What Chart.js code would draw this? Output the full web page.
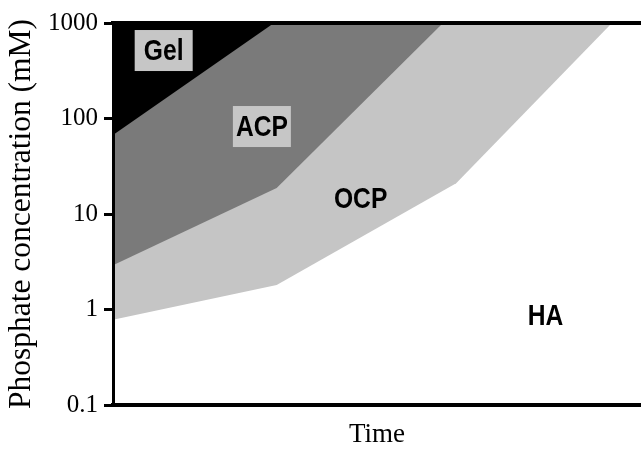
<!DOCTYPE html>
<html lang="en">
<head>
    <meta charset="UTF-8">
    <title>Calcium phosphate phases</title>
    <script src="https://cdn.jsdelivr.net/npm/chart.js"></script>
    <style>
        body {
            margin: 0;
            background-color: #ffffff;
        }

        .chart-box {
            width: 641px;
            height: 451px;
        }
    </style>
</head>
<body>
    <div class="chart-box">
        <canvas id="phaseChart"></canvas>
    </div>

    <script>
        // Upper concentration limit of each phase against time (arbitrary units, 0-100)
        const gelTime = [0, 30.5];
        const gelLimit = [67, 1000];
        const acpTime = [0, 31, 62.5];
        const acpLimit = [2.9, 18.7, 1000];
        const ocpTime = [0, 31, 65, 94.5];
        const ocpLimit = [0.78, 1.8, 21, 1000];

        const yTicks = [0.1, 1, 10, 100, 1000];
        const yTickLabels = ['0.1', '1', '10', '100', '1000'];

        const toPoints = (xs, ys) => xs.map((x, i) => ({x: x, y: ys[i]}));

        // Phase names, placed at (time, concentration)
        const labelSpots = [
            {text: 'Gel', time: 9.6, conc: 515, boxed: true},
            {text: 'ACP', time: 28.2, conc: 82.4, boxed: true},
            {text: 'OCP', time: 46.9, conc: 14.5, boxed: false},
            {text: 'HA', time: 81.9, conc: 0.855, boxed: false}
        ];

        // Bold condensed names; no narrow face installed, so squeeze the regular one
        const phaseLabels = {
            id: 'phaseLabels',
            afterDatasetsDraw(chart) {
                const {ctx, scales: {x, y}} = chart;
                ctx.save();
                ctx.font = 'bold 30px "Liberation Sans", Arial, sans-serif';
                ctx.textAlign = 'center';
                ctx.textBaseline = 'middle';
                labelSpots.forEach(l => {
                    const px = x.getPixelForValue(l.time);
                    const py = y.getPixelForValue(l.conc);
                    if (l.boxed) {
                        ctx.fillStyle = '#c6c6c6';
                        ctx.fillRect(px - 29, py - 20.5, 58, 41);
                    }
                    ctx.save();
                    ctx.translate(px, py + 1);
                    ctx.scale(0.82, 1);
                    ctx.fillStyle = '#000000';
                    ctx.fillText(l.text, 0, 0);
                    ctx.restore();
                });
                ctx.restore();
            }
        };

        const serif = 'Liberation Serif';
        const none = 'rgba(0, 0, 0, 0)';

        new Chart(document.getElementById('phaseChart'), {
            type: 'line',
            data: {
                datasets: [
                    {label: 'Gel', data: toPoints(gelTime, gelLimit), fill: 'end', backgroundColor: '#000000', borderColor: none, borderWidth: 0, pointRadius: 0},
                    {label: 'ACP', data: toPoints(acpTime, acpLimit), fill: 'end', backgroundColor: '#7a7a7a', borderColor: none, borderWidth: 0, pointRadius: 0},
                    {label: 'OCP', data: toPoints(ocpTime, ocpLimit), fill: 'end', backgroundColor: '#c5c5c5', borderColor: none, borderWidth: 0, pointRadius: 0}
                ]
            },
            options: {
                responsive: true,
                maintainAspectRatio: false,
                animation: false,
                layout: { padding: 0 },
                plugins: {
                    legend: { display: false },
                    tooltip: { enabled: false }
                },
                scales: {
                    x: {
                        type: 'linear',
                        position: 'bottom',
                        min: 0,
                        max: 100,
                        ticks: { display: false },
                        grid: { display: false, drawTicks: false },
                        border: { color: '#000000', width: 4, z: 1 },
                        title: {
                            display: true,
                            text: 'Time',
                            color: '#000000',
                            font: { family: serif, size: 27 },
                            padding: { top: 0, bottom: 0 }
                        },
                        afterFit: s => { s.height = 46; }
                    },
                    xTop: {
                        type: 'linear',
                        position: 'top',
                        min: 0,
                        max: 100,
                        ticks: { display: false },
                        grid: { display: false, drawTicks: false },
                        border: { color: '#000000', width: 4, z: 1 },
                        afterFit: s => { s.height = 23; }
                    },
                    y: {
                        type: 'logarithmic',
                        min: 0.1,
                        max: 1000,
                        afterBuildTicks: s => { s.ticks = yTicks.map(v => ({value: v})); },
                        ticks: {
                            autoSkip: false,
                            color: '#000000',
                            padding: 6,
                            font: { family: serif, size: 25 },
                            callback: v => yTickLabels[yTicks.indexOf(v)]
                        },
                        grid: { drawOnChartArea: false, color: '#000000', lineWidth: 3, tickLength: 9 },
                        border: { color: '#000000', width: 3, z: 1 },
                        title: {
                            display: true,
                            text: 'Phosphate concentration (mM)',
                            color: '#000000',
                            font: { family: serif, size: 31.5 },
                            padding: { top: 3, bottom: 0 }
                        },
                        afterFit: s => { s.width = 113; }
                    }
                }
            },
            plugins: [phaseLabels]
        });
    </script>
</body>
</html>
